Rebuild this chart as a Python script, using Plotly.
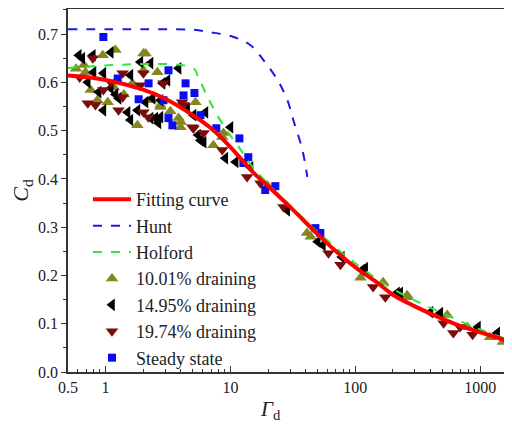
import plotly.graph_objects as go

# fitted curve and reference models
fit_x = [0.5, 1, 2, 3, 5, 7, 10, 15, 20, 30, 50, 70, 100, 150, 200, 300, 500, 700, 1000, 1500, 2000]
fit_y = [0.614, 0.605, 0.585, 0.566, 0.532, 0.505, 0.466, 0.415, 0.385, 0.342, 0.285, 0.250, 0.217,
         0.185, 0.160, 0.136, 0.110, 0.095, 0.082, 0.068, 0.057]

hunt_x = [0.5, 2, 5, 6.9, 10.6, 14.5, 18.4, 23.8, 28.6, 31.9, 37.7, 41.3]
hunt_y = [0.71, 0.71, 0.709, 0.704, 0.694, 0.677, 0.646, 0.605, 0.563, 0.522, 0.46, 0.404]

holford_x = [0.5, 5, 5.5, 6.5, 8, 10, 12.5, 15, 20, 30, 50, 100, 200, 400, 700, 1000, 2000]
holford_y = [0.63, 0.63, 0.612, 0.572, 0.528, 0.49, 0.455, 0.425, 0.39, 0.345, 0.29, 0.225,
             0.172, 0.133, 0.105, 0.088, 0.060]

# measured points
d10_x = [0.69, 0.95, 1.20, 2.01, 0.76, 0.86, 1.04, 1.16, 1.80, 2.29, 2.75, 3.84, 5.25, 3.98, 0.67,
         2.01, 2.60, 1.64, 2.09, 2.75, 4.0, 7.3, 8.8, 8.6, 19.8, 41, 44, 110, 167, 260, 260, 545,
         790, 1200, 1520, 0.58, 1.4, 3.3]
d10_y = [0.621, 0.656, 0.667, 0.660, 0.584, 0.563, 0.559, 0.590, 0.511, 0.563, 0.549, 0.526, 0.559,
         0.507, 0.636, 0.625, 0.621, 0.598, 0.660, 0.553, 0.518, 0.470, 0.495, 0.487, 0.386, 0.288,
         0.280, 0.195, 0.186, 0.155, 0.159, 0.118, 0.093, 0.072, 0.062, 0.628, 0.575, 0.540]

d15_x = [0.61, 0.65, 0.79, 1.10, 0.80, 0.96, 0.88, 1.10, 0.96, 1.50, 1.58, 1.80, 2.29, 2.75, 1.58,
         1.90, 2.29, 2.86, 3.13, 3.84, 2.75, 2.09, 5.06, 6.31, 5.75, 1.27, 2.38, 2.5, 2.65, 5.5,
         10, 6.1, 9.1, 11, 14.5, 28.5, 50, 55, 78, 113, 120, 216, 229, 400, 480, 960, 1370, 1740,
         0.72, 1.2, 4.5]
d15_y = [0.656, 0.650, 0.656, 0.662, 0.621, 0.619, 0.580, 0.588, 0.542, 0.538, 0.522, 0.542, 0.526,
         0.528, 0.615, 0.642, 0.640, 0.598, 0.604, 0.629, 0.563, 0.559, 0.532, 0.538, 0.480, 0.567,
         0.567, 0.526, 0.516, 0.491, 0.507, 0.476, 0.443, 0.435, 0.424, 0.335, 0.270, 0.263, 0.238,
         0.211, 0.215, 0.164, 0.164, 0.124, 0.122, 0.093, 0.081, 0.066, 0.600, 0.575, 0.545]

d20_x = [0.79, 0.83, 1.37, 1.27, 2.01, 1.37, 2.01, 1.90, 2.91, 4.21, 5.06, 0.96, 0.72, 4.1, 2.2,
         4.96, 6.1, 8.6, 13.6, 17.4, 26.6, 61, 76, 139, 174, 510, 610, 690, 870, 0.62, 1.1]
d20_y = [0.650, 0.553, 0.619, 0.542, 0.538, 0.569, 0.619, 0.594, 0.598, 0.553, 0.505, 0.584, 0.557,
         0.559, 0.528, 0.507, 0.495, 0.460, 0.404, 0.391, 0.342, 0.246, 0.222, 0.176, 0.155, 0.101,
         0.081, 0.093, 0.077, 0.610, 0.600]

steady_x = [0.96, 1.25, 2.21, 3.19, 1.84, 2.91, 3.19, 3.43, 4.37, 4.21, 5.15, 5.75, 7.71, 11.8,
            13.9, 12.7, 22.9, 19.0, 47.9, 52.5]
steady_y = [0.694, 0.608, 0.598, 0.625, 0.565, 0.563, 0.526, 0.511, 0.598, 0.573, 0.578, 0.532,
            0.505, 0.484, 0.445, 0.433, 0.385, 0.377, 0.298, 0.288]

x_ticks = [0.5, 1, 10, 100, 1000]
x_labels = ['0.5', '1', '10', '100', '1000']
x_minor = [0.6, 0.7, 0.8, 0.9, 2, 3, 4, 5, 6, 7, 8, 9, 20, 30, 40, 50, 60, 70, 80, 90,
           200, 300, 400, 500, 600, 700, 800, 900]

SERIF = 'Liberation Serif'

fig = go.Figure()
# points first, lines drawn over them; legendrank keeps the legend order
fig.add_trace(go.Scatter(x=d10_x, y=d10_y, mode='markers', name='10.01% draining',
                         marker=dict(symbol='triangle-up', size=11, color='#86861e'),
                         legendrank=4))
fig.add_trace(go.Scatter(x=d15_x, y=d15_y, mode='markers', name='14.95% draining',
                         marker=dict(symbol='triangle-left', size=11, color='#000000'),
                         legendrank=5))
fig.add_trace(go.Scatter(x=d20_x, y=d20_y, mode='markers', name='19.74% draining',
                         marker=dict(symbol='triangle-down', size=11, color='#7a0c0c'),
                         legendrank=6))
fig.add_trace(go.Scatter(x=steady_x, y=steady_y, mode='markers', name='Steady state',
                         marker=dict(symbol='square', size=8, color='#0c0cf0'),
                         legendrank=7))
fig.add_trace(go.Scatter(x=hunt_x, y=hunt_y, mode='lines', name='Hunt',
                         line=dict(color='#1a1ae6', width=2, dash='dash', shape='spline'),
                         legendrank=2))
fig.add_trace(go.Scatter(x=holford_x, y=holford_y, mode='lines', name='Holford',
                         line=dict(color='#33e633', width=2, dash='dash', shape='spline'),
                         legendrank=3))
fig.add_trace(go.Scatter(x=fit_x, y=fit_y, mode='lines', name='Fitting curve',
                         line=dict(color='#ff0000', width=4, shape='spline'), legendrank=1))

# the page body adds an 8px margin, so the figure is sized to fit after it
fig.update_layout(
    width=504, height=420,
    margin=dict(l=60, r=0, t=1, b=56),
    plot_bgcolor='white', paper_bgcolor='white',
    font=dict(family=SERIF, size=16, color='#222'),
    showlegend=True,
    legend=dict(x=0.045, y=0.526, xanchor='left', yanchor='top', bgcolor='rgba(0,0,0,0)',
                font=dict(family=SERIF, size=18, color='#222'), tracegroupgap=0,
                itemwidth=38),
)
fig.add_annotation(text='<i>Γ</i><sub>d</sub>', xref='paper', yref='paper', x=0.455, y=-0.105,
                   xanchor='center', yanchor='middle', showarrow=False,
                   font=dict(family=SERIF, size=21, color='#222'))
fig.update_xaxes(
    type='log', range=[-0.30103, 3.2553],
    tickvals=x_ticks, ticktext=x_labels,
    ticks='inside', ticklen=6, tickwidth=1.3, tickcolor='#333',
    minor=dict(tickvals=x_minor, ticks='inside', ticklen=3, tickwidth=1, tickcolor='#333'),
    showline=True, linecolor='#333', linewidth=1.5, mirror=True,
    showgrid=False, zeroline=False,
)
fig.update_yaxes(
    range=[0, 0.752], tickvals=[0, 0.1, 0.2, 0.3, 0.4, 0.5, 0.6, 0.7],
    tickformat='.1f',
    ticks='outside', ticklen=5, tickwidth=1.3, tickcolor='#333',
    minor=dict(tickvals=[0.05, 0.15, 0.25, 0.35, 0.45, 0.55, 0.65, 0.75], ticks='outside',
               ticklen=3, tickwidth=1, tickcolor='#333'),
    showline=True, linecolor='#333', linewidth=1.5,
    showgrid=False, zeroline=False,
    title=dict(text='<i>C</i><sub>d</sub>', font=dict(family=SERIF, size=22), standoff=6),
)

fig.write_html('out.html')
